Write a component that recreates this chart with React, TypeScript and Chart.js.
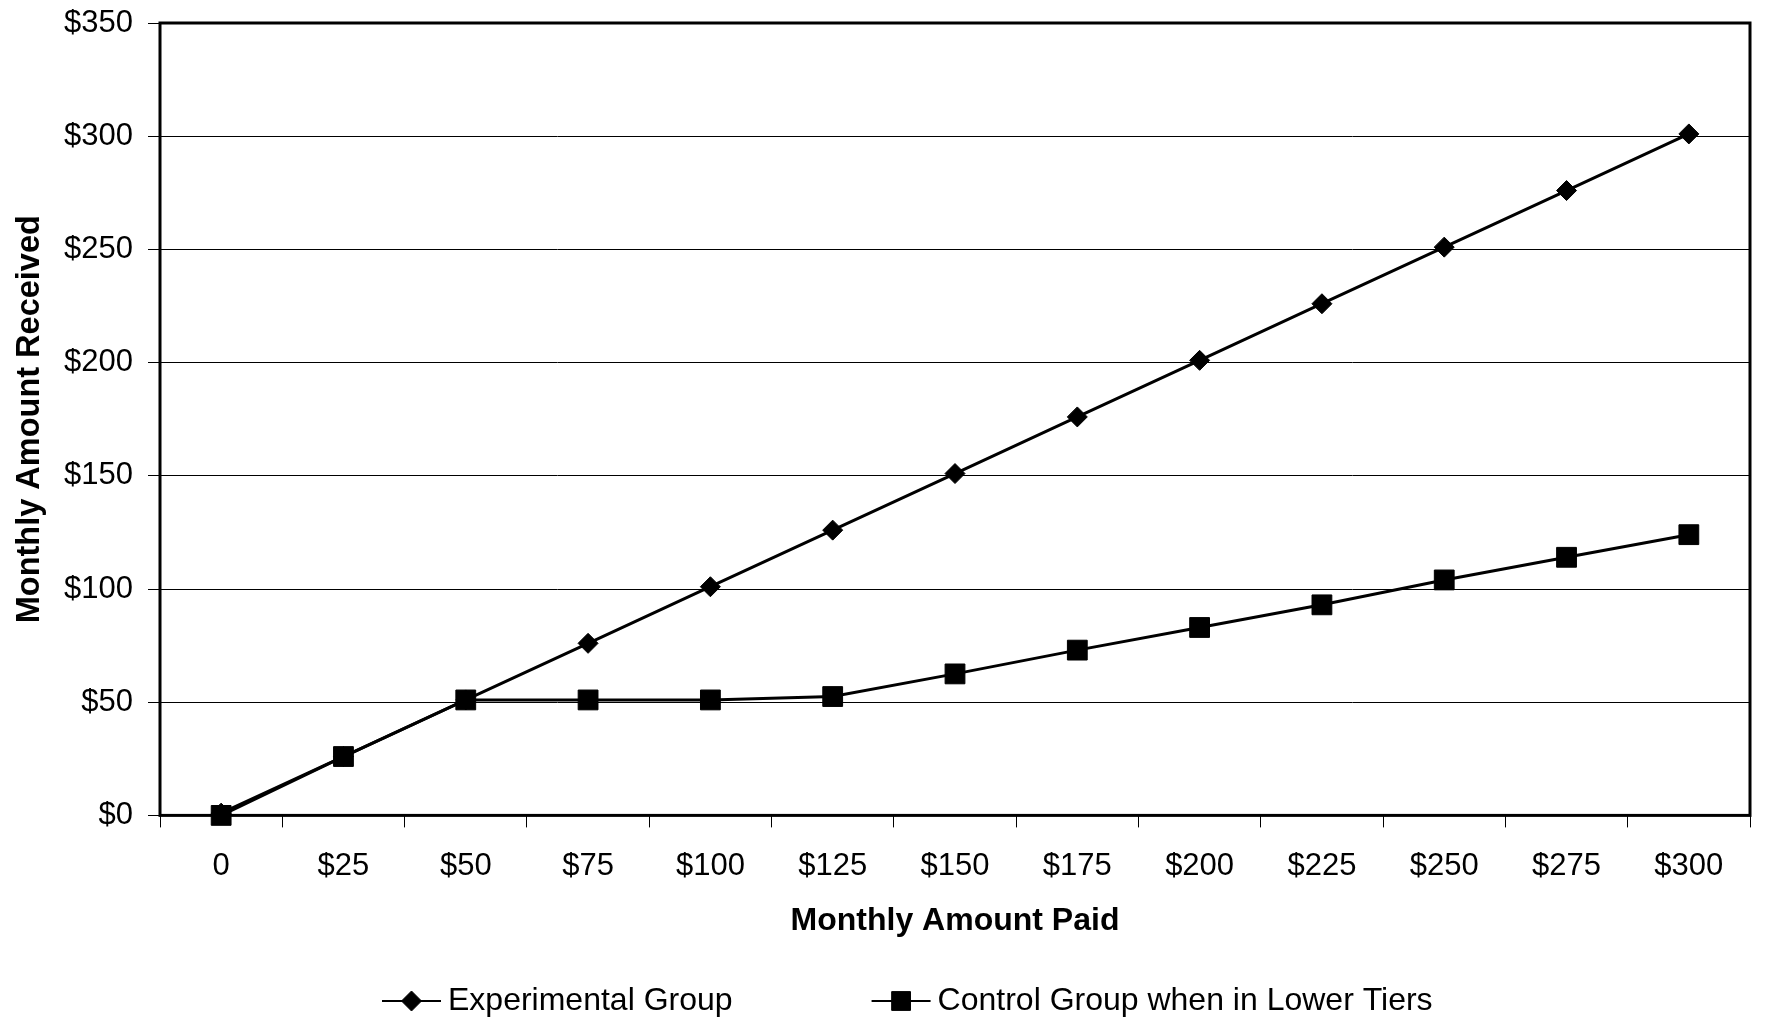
import React, { useEffect, useRef } from 'react';
import { Chart, registerables } from 'chart.js';
import { drawPoint } from 'chart.js/helpers';

Chart.register(...registerables);

// ---- data ----
const categories = ['0', '$25', '$50', '$75', '$100', '$125', '$150', '$175', '$200', '$225', '$250', '$275', '$300'];
const experimentalValues = [1, 26, 51, 76, 101, 126, 151, 176, 201, 226, 251, 276, 301];
const controlValues = [0, 26, 51, 51, 51, 52.5, 62.5, 73, 83, 93, 104, 114, 124];
const seriesNames = ['Experimental Group', 'Control Group when in Lower Tiers'];
const yMin = 0;
const yMax = 350;
const yStep = 50;
const xTitle = 'Monthly Amount Paid';
const yTitle = 'Monthly Amount Received';

const FONT = '"Liberation Sans", Arial, Helvetica, sans-serif';

const framePlugin = {
  id: 'frame',
  beforeDatasetsDraw(chart: any) {
    const { ctx, chartArea } = chart;
    const { left, top, right, bottom } = chartArea;
    ctx.save();
    ctx.strokeStyle = '#000';
    ctx.lineWidth = 3;
    ctx.strokeRect(left, top, right - left, bottom - top);
    ctx.restore();
  },
};

const lineLegendPlugin = {
  id: 'lineLegend',
  afterDraw(chart: any, _args: any, opts: any) {
    const ctx = chart.ctx;
    ctx.save();
    ctx.font = `${opts.fontSize}px ${FONT}`;
    ctx.textBaseline = 'middle';
    let x = opts.startX;
    const y = opts.y;
    chart.data.datasets.forEach((ds: any) => {
      const len = opts.lineLength;
      ctx.strokeStyle = ds.borderColor;
      ctx.lineWidth = opts.lineWidth;
      ctx.beginPath();
      ctx.moveTo(x, y);
      ctx.lineTo(x + len, y);
      ctx.stroke();
      ctx.fillStyle = ds.pointBackgroundColor;
      ctx.strokeStyle = ds.pointBorderColor;
      ctx.lineWidth = ds.pointBorderWidth;
      drawPoint(
        ctx,
        { pointStyle: ds.pointStyle, radius: ds.pointRadius * (ds.legendScale || 1), borderWidth: ds.pointBorderWidth, rotation: 0 } as any,
        x + len / 2,
        y
      );
      ctx.fillStyle = '#000';
      const tx = x + len + opts.textGap;
      ctx.fillText(ds.label, tx, y);
      x = tx + ctx.measureText(ds.label).width + opts.itemGap;
    });
    ctx.restore();
  },
};

export default function App() {
  const canvasRef = useRef<HTMLCanvasElement | null>(null);

  useEffect(() => {
    const canvas = canvasRef.current;
    if (!canvas) return;
    const chart = new Chart(canvas, {
      type: 'line',
      data: {
        labels: categories,
        datasets: [
          {
            label: seriesNames[0],
            data: experimentalValues,
            borderColor: '#000',
            backgroundColor: '#000',
            borderWidth: 3,
            pointStyle: 'rectRot',
            pointRadius: 10,
            pointBackgroundColor: '#000',
            pointBorderColor: '#000',
            pointBorderWidth: 1,
            legendScale: 1,
            tension: 0,
            fill: false,
            clip: false,
            order: 1,
          } as any,
          {
            label: seriesNames[1],
            data: controlValues,
            borderColor: '#000',
            backgroundColor: '#000',
            borderWidth: 3,
            pointStyle: 'rect',
            pointRadius: 14,
            pointBackgroundColor: '#000',
            pointBorderColor: '#000',
            pointBorderWidth: 1,
            legendScale: 0.95,
            tension: 0,
            fill: false,
            clip: false,
            order: 0,
          } as any,
        ],
      },
      options: {
        animation: false,
        responsive: false,
        devicePixelRatio: 1,
        layout: { padding: { top: 23, right: 8, bottom: 81, left: 0 } },
        plugins: {
          legend: { display: false },
          tooltip: { enabled: false },
          lineLegend: { startX: 382, y: 1001, lineLength: 59, lineWidth: 2, textGap: 7, itemGap: 139, fontSize: 32 },
        } as any,
        scales: {
          x: {
            type: 'category',
            offset: true,
            border: { display: false },
            grid: {
              display: true,
              drawOnChartArea: false,
              offset: true,
              drawTicks: true,
              tickLength: 12,
              color: '#000',
              lineWidth: 1,
            },
            ticks: {
              color: '#000',
              font: { family: FONT, size: 31 },
              padding: 20,
              maxRotation: 0,
              autoSkip: false,
            },
            title: {
              display: true,
              text: xTitle,
              color: '#000',
              font: { family: FONT, size: 32, weight: 'bold' },
              padding: { top: -3, bottom: 0 },
            },
            afterFit: (scale: any) => {
              scale.paddingLeft = 0;
              scale.paddingRight = 0;
            },
          },
          y: {
            min: yMin,
            max: yMax,
            border: { display: false },
            grid: {
              color: '#000',
              lineWidth: 1,
              drawTicks: true,
              tickLength: 12,
            },
            ticks: {
              stepSize: yStep,
              color: '#000',
              font: { family: FONT, size: 31 },
              padding: 15,
              callback: (v: any) => '$' + v,
            },
            title: {
              display: true,
              text: yTitle,
              color: '#000',
              font: { family: FONT, size: 32.5, weight: 'bold' },
              padding: { top: 11, bottom: 0 },
            },
            afterFit: (scale: any) => {
              scale.width = 160;
              scale.paddingTop = 0;
              scale.paddingBottom = 0;
            },
          },
        },
      },
      plugins: [framePlugin, lineLegendPlugin],
    });
    return () => chart.destroy();
  }, []);

  return (
    <div style={{ position: 'absolute', left: 0, top: 0, width: 1765, height: 1021, background: '#fff' }}>
      <canvas ref={canvasRef} width={1765} height={1021} style={{ display: 'block', width: 1765, height: 1021 }} />
    </div>
  );
}
